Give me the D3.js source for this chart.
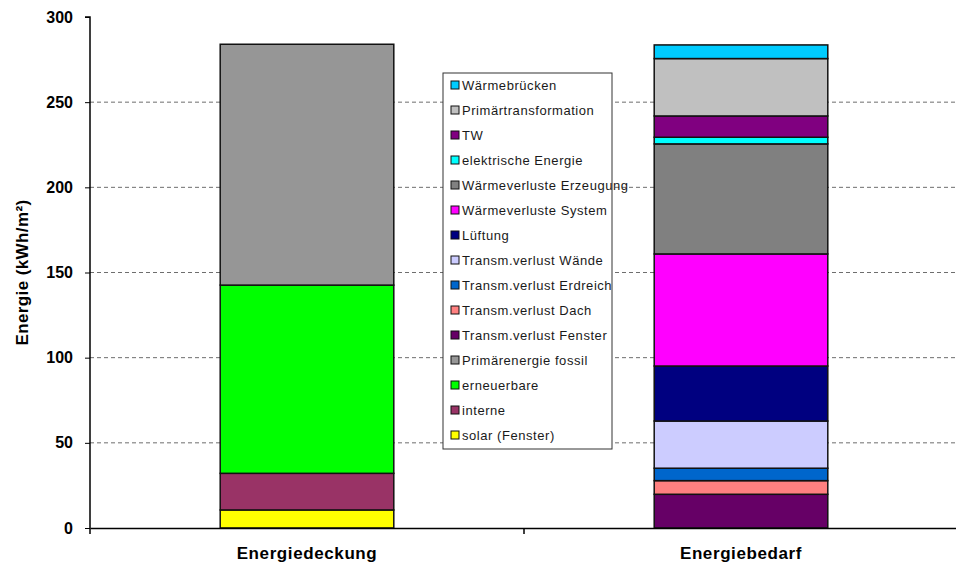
<!DOCTYPE html>
<html>
<head>
<meta charset="utf-8">
<script src="https://cdn.jsdelivr.net/npm/d3@7"></script>
<style>
  html, body { margin: 0; padding: 0; background: #fff; }
  svg { display: block; font-family: "Liberation Sans", Arial, sans-serif; }
</style>
</head>
<body>
<svg id="chart" width="956" height="569"></svg>
<script>
// Categories on the x axis
const categories = ["Energiedeckung", "Energiebedarf"];

// Series in stacking order (bottom to top); values per category
const seriesNames = [
  "solar (Fenster)", "interne", "erneuerbare", "Primärenergie fossil",
  "Transm.verlust Fenster", "Transm.verlust Dach", "Transm.verlust Erdreich",
  "Transm.verlust Wände", "Lüftung", "Wärmeverluste System",
  "Wärmeverluste Erzeugung", "elektrische Energie", "TW",
  "Primärtransformation", "Wärmebrücken"
];
const deckungValues = [10.6, 21.5, 110.5, 141.4, 0, 0, 0, 0, 0, 0, 0, 0, 0, 0, 0];
const bedarfValues  = [0, 0, 0, 0, 19.8, 8.0, 7.3, 27.7, 32.3, 65.8, 64.6, 3.9, 12.5, 33.7, 8.0];
const seriesColors = [
  "#FFFF00", "#993366", "#00FF00", "#969696",
  "#660066", "#FF8080", "#0066CC", "#CCCCFF", "#000080", "#FF00FF",
  "#808080", "#00FFFF", "#800080", "#C0C0C0", "#00CCFF"
];
const yTicks = [0, 50, 100, 150, 200, 250, 300];

const svg = d3.select("#chart");
const margin = { left: 90, right: -2, top: 17, bottom: 41 };
const W = 956, H = 569;
const x0 = margin.left, x1 = W - margin.right;
const yBase = H - margin.bottom;

const x = d3.scaleBand().domain(categories).range([x0, x1]).paddingInner(0).paddingOuter(0);
const y = d3.scaleLinear().domain([0, 300]).range([yBase, margin.top]);

// Row table for the stack
const rows = categories.map((c, i) => {
  const r = { category: c };
  seriesNames.forEach((s, j) => { r[s] = i === 0 ? deckungValues[j] : bedarfValues[j]; });
  return r;
});
const stacked = d3.stack().keys(seriesNames)(rows);
const color = d3.scaleOrdinal().domain(seriesNames).range(seriesColors);

// Dashed horizontal gridlines
svg.append("g")
  .selectAll("line")
  .data(yTicks.filter(t => t > 0 && t < 300))
  .join("line")
  .attr("x1", x0).attr("x2", x1)
  .attr("y1", d => y(d)).attr("y2", d => y(d))
  .attr("stroke", "#6e6e6e")
  .attr("stroke-width", 1)
  .attr("stroke-dasharray", "4,3");

// Stacked bars
const barWidth = x.bandwidth() * 0.4;
svg.append("g")
  .selectAll("g")
  .data(stacked)
  .join("g")
  .attr("fill", d => color(d.key))
  .selectAll("rect")
  .data(d => d.filter(p => p[1] - p[0] > 0))
  .join("rect")
  .attr("x", d => x(d.data.category) + (x.bandwidth() - barWidth) / 2)
  .attr("width", barWidth)
  .attr("y", d => y(d[1]))
  .attr("height", d => y(d[0]) - y(d[1]))
  .attr("stroke", "#111")
  .attr("stroke-width", 1.5);

// Y axis
const yAxis = d3.axisLeft(y).tickValues(yTicks).tickSize(5).tickPadding(12);
const gy = svg.append("g").attr("transform", `translate(${x0},0)`).call(yAxis);
gy.select(".domain").attr("stroke", "#000").attr("stroke-width", 1.5).attr("d", `M-5,${margin.top}H0V${yBase}`);
gy.selectAll(".tick line").attr("stroke", "#000");
gy.selectAll(".tick text")
  .attr("font-family", "Liberation Sans, Arial, sans-serif")
  .attr("font-size", 16).attr("font-weight", "bold").attr("fill", "#000");

// X axis
const xAxis = d3.axisBottom(x).tickSize(0).tickPadding(19);
const gx = svg.append("g").attr("transform", `translate(0,${yBase})`).call(xAxis);
gx.select(".domain").attr("stroke", "#000").attr("stroke-width", 1.5);
gx.selectAll(".tick text")
  .attr("font-family", "Liberation Sans, Arial, sans-serif")
  .attr("font-size", 17).attr("font-weight", "bold").attr("fill", "#000")
  .attr("letter-spacing", "0.6px");
// Category separator ticks
gx.selectAll("line.sep")
  .data([x0, x(categories[1])])
  .join("line")
  .attr("class", "sep")
  .attr("x1", d => d).attr("x2", d => d)
  .attr("y1", 0).attr("y2", 6)
  .attr("stroke", "#000").attr("stroke-width", 1.5);

// Y axis title
svg.append("text")
  .attr("transform", `translate(28,${(margin.top + yBase) / 2}) rotate(-90)`)
  .attr("text-anchor", "middle")
  .attr("font-size", 17).attr("font-weight", "bold").attr("fill", "#000")
  .attr("letter-spacing", "0.4px")
  .text("Energie (kWh/m²)");

// Legend (reverse stacking order, like the source spreadsheet)
const legendItems = seriesNames.map((s, i) => ({ name: s, color: seriesColors[i] })).reverse();
const lg = svg.append("g").attr("transform", "translate(443,73)");
lg.append("rect")
  .attr("width", 169).attr("height", 376)
  .attr("fill", "#fff").attr("stroke", "#333").attr("stroke-width", 1);
const item = lg.selectAll("g.item")
  .data(legendItems)
  .join("g")
  .attr("class", "item")
  .attr("transform", (d, i) => `translate(8,${12 + i * 25})`);
item.append("rect")
  .attr("x", 0).attr("y", -4)
  .attr("width", 8).attr("height", 8)
  .attr("fill", d => d.color)
  .attr("stroke", "#111").attr("stroke-width", 1);
item.append("text")
  .attr("x", 11).attr("y", 0).attr("dy", "0.35em")
  .attr("font-size", 13).attr("fill", "#1a1a1a")
  .attr("letter-spacing", "0.55px")
  .text(d => d.name);
</script>
</body>
</html>
